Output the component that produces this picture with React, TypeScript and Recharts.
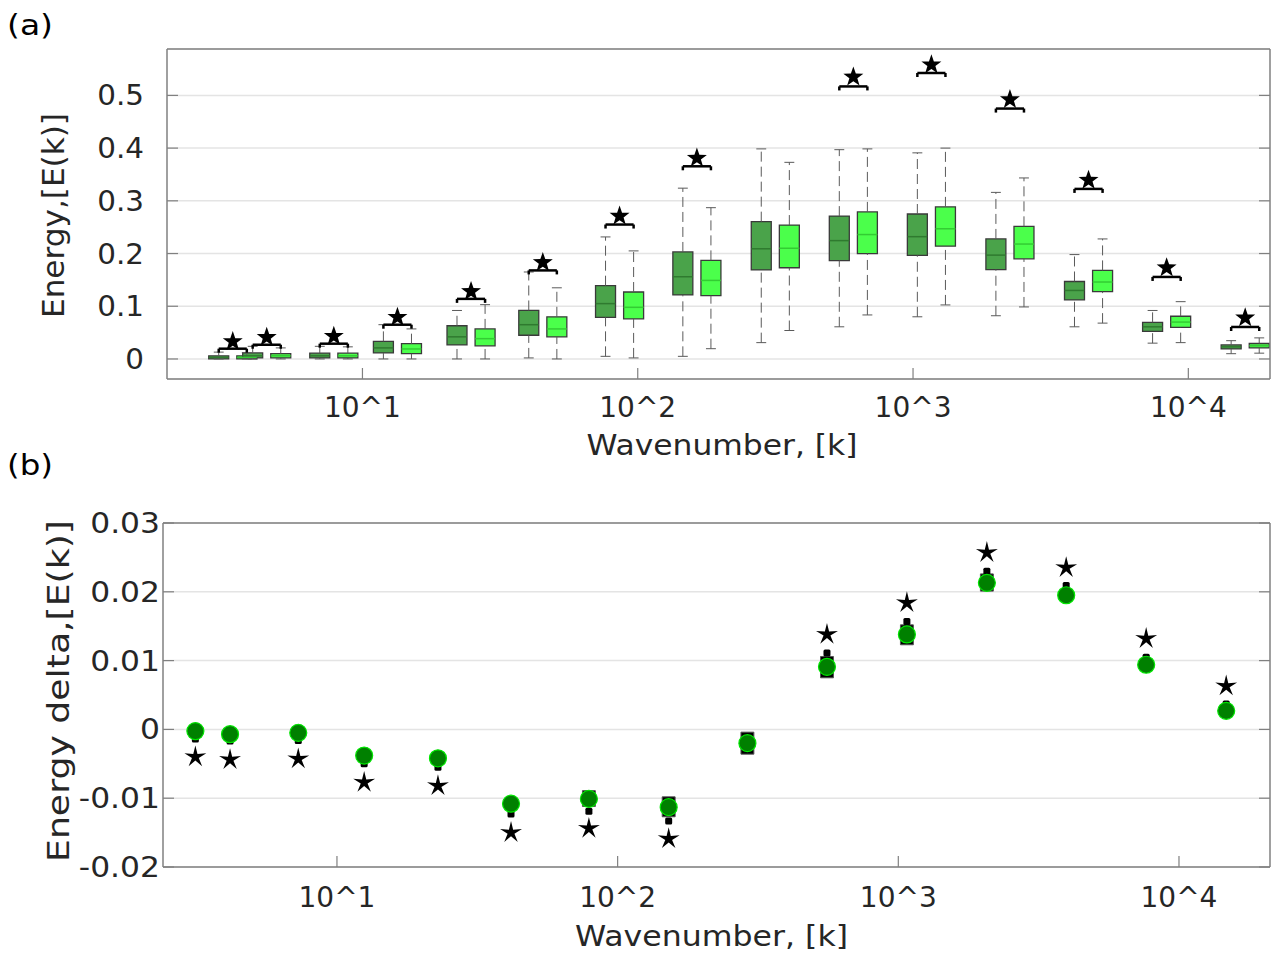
import React from 'react'
import {
  ComposedChart,
  Scatter,
  XAxis,
  YAxis,
  CartesianGrid,
  ReferenceArea,
  ReferenceLine,
} from 'recharts'

const FONT = '"DejaVu Sans", sans-serif'
const TXT = '#262626'
const AX = '#808080'

// ---- panel (a): energy per wavenumber bin, two conditions per bin ----
const kBox = [3.38, 4.49, 7.87, 13.4, 24.8, 45.2, 85.9, 164, 316, 607, 1166, 2249, 4340, 8340, 16090]

const darkLo = [0, 0, 0, 0, 0, 0.002, 0.005, 0.005, 0.031, 0.061, 0.08, 0.082, 0.061, 0.03, 0.01]
const darkQ1 = [0, 0.002, 0.002, 0.0114, 0.0266, 0.045, 0.079, 0.1215, 0.169, 0.1865, 0.1966, 0.1695, 0.112, 0.0524, 0.019]
const darkMed = [0.003, 0.006, 0.006, 0.021, 0.042, 0.065, 0.105, 0.156, 0.209, 0.2245, 0.232, 0.197, 0.13, 0.061, 0.023]
const darkQ3 = [0.006, 0.0114, 0.011, 0.0334, 0.063, 0.092, 0.139, 0.203, 0.2605, 0.271, 0.275, 0.2277, 0.147, 0.0695, 0.0266]
const darkHi = [0.013, 0.024, 0.024, 0.065, 0.092, 0.165, 0.2315, 0.324, 0.3985, 0.397, 0.391, 0.316, 0.198, 0.092, 0.0347]

const lightLo = [0, 0, 0, 0, 0, 0, 0.002, 0.0195, 0.054, 0.0835, 0.1025, 0.0987, 0.068, 0.031, 0.011]
const lightQ1 = [0, 0.002, 0.002, 0.01, 0.025, 0.042, 0.076, 0.12, 0.173, 0.2, 0.214, 0.19, 0.1277, 0.06, 0.021]
const lightMed = [0.003, 0.006, 0.006, 0.019, 0.0385, 0.057, 0.098, 0.149, 0.21, 0.236, 0.247, 0.218, 0.146, 0.07, 0.025]
const lightQ3 = [0.006, 0.01, 0.011, 0.029, 0.057, 0.08, 0.127, 0.187, 0.254, 0.279, 0.2885, 0.2516, 0.168, 0.081, 0.0293]
const lightHi = [0.012, 0.021, 0.023, 0.057, 0.103, 0.135, 0.205, 0.287, 0.373, 0.3985, 0.4, 0.3434, 0.2277, 0.1087, 0.04]

// significance bracket and star above each pair (bin 9 not significant)
const bracketY = [0.0195, 0.027, 0.029, 0.065, 0.114, 0.168, 0.255, 0.3655, null, 0.517, 0.5425, 0.475, 0.3226, 0.1556, 0.0607]
const starY = [0.033, 0.041, 0.043, 0.079, 0.128, 0.183, 0.271, 0.381, null, 0.535, 0.558, 0.492, 0.339, 0.173, 0.078]

// ---- panel (b): energy delta ----
const kDelta = [3.13, 4.16, 7.28, 12.5, 22.9, 41.7, 79.0, 152, 290, 557, 1073, 2068, 3964, 7640, 14730]
const deltaMean = [-0.00025, -0.0007, -0.0005, -0.0038, -0.0042, -0.0108, -0.0101, -0.0113, -0.002, 0.0091, 0.0138, 0.0213, 0.0195, 0.0094, 0.0027]
const deltaMedian = [-0.0014, -0.0017, -0.0016, -0.005, -0.0055, -0.0123, -0.0119, -0.0133, -0.002, 0.0111, 0.0157, 0.023, 0.0209, 0.0105, 0.0037]
const deltaLo = [-0.0006, -0.001, -0.0008, -0.0041, -0.0045, -0.0111, -0.0112, -0.0127, -0.0036, 0.0075, 0.0123, 0.0201, 0.0192, 0.0091, 0.0024]
const deltaHi = [0.0001, -0.0004, -0.0002, -0.0035, -0.0039, -0.0105, -0.0089, -0.0098, -0.0004, 0.0106, 0.0152, 0.0226, 0.0198, 0.0097, 0.003]
const deltaStar = [-0.004, -0.0044, -0.0043, -0.0077, -0.0082, -0.015, -0.0144, -0.0159, null, 0.0138, 0.0184, 0.0257, 0.0235, 0.0132, 0.0063]

const xTicks = [10, 100, 1000, 10000]
const yTicksA = [0, 0.1, 0.2, 0.3, 0.4, 0.5]
const yTicksB = [-0.02, -0.01, 0, 0.01, 0.02, 0.03]

// widths in decades of the log axis
const PAIR_OFF = 0.051
const HALF_W = 0.0363
const CAP_HALF = 0.018
const DELTA_HALF_W = 0.023

const DARK = '#4aa34a'
const DARK_MED = '#2f7a2f'
const LIGHT = '#4bff4b'
const LIGHT_MED = '#33cc33'
const WHISK = '#5a5a5a'

const pow = (d: number) => Math.pow(10, d)
const fmtPow = (v: number) => `10^${Math.round(Math.log10(v))}`
const pts = (ks: number[], ys: (number | null)[]) =>
  ks.map((k, i) => ({ k, v: ys[i] })).filter((p) => p.v != null)

function starPath(cx: number, cy: number, R: number, r: number) {
  let d = ''
  for (let i = 0; i < 10; i++) {
    const rad = i % 2 === 0 ? R : r
    const a = -Math.PI / 2 + (i * Math.PI) / 5
    d += (i ? 'L' : 'M') + (cx + rad * Math.cos(a)).toFixed(2) + ',' + (cy + rad * Math.sin(a)).toFixed(2)
  }
  return d + 'Z'
}

const tickStyle = { fontSize: 28, fill: TXT, fontFamily: FONT }

// y tick label, slightly widened like the reference
const yTick = (sx: number, size: number) => (p: any) => (
  <text
    x={p.x}
    y={p.y}
    dy="0.36em"
    textAnchor="end"
    fontSize={size}
    fontFamily={FONT}
    fill={TXT}
    transform={`translate(${p.x},0) scale(${sx},1) translate(${-p.x},0)`}
  >
    {p.payload.value}
  </text>
)

// axis titles with a fixed drawn length
const xTitle = (text: string, len: number, dx: number) => (p: any) => {
  const vb = p.viewBox
  const x = vb.x + vb.width / 2 + dx
  const y = vb.y + vb.height - p.offset
  return (
    <text x={x} y={y} textAnchor="middle" fontSize={28} fontFamily={FONT} fill={TXT} textLength={len} lengthAdjust="spacingAndGlyphs">
      {text}
    </text>
  )
}
const yTitle = (text: string, len: number, size: number, dy: number) => (p: any) => {
  const vb = p.viewBox
  const x = vb.x + p.offset
  const y = vb.y + vb.height / 2 + dy
  return (
    <text
      x={x}
      y={y}
      dy="0.36em"
      textAnchor="middle"
      fontSize={size}
      fontFamily={FONT}
      fill={TXT}
      textLength={len}
      lengthAdjust="spacingAndGlyphs"
      transform={`rotate(-90, ${x}, ${y})`}
    >
      {text}
    </text>
  )
}

function boxElements(
  i: number,
  side: number,
  lo: number[],
  q1: number[],
  med: number[],
  q3: number[],
  hi: number[],
  fill: string,
  medColor: string,
  tag: string,
) {
  const c = kBox[i] * pow(side * PAIR_OFF)
  const l = c / pow(HALF_W)
  const r = c * pow(HALF_W)
  const cl = c / pow(CAP_HALF)
  const cr = c * pow(CAP_HALF)
  const key = `${tag}${i}`
  return [
    <ReferenceLine key={key + 'wu'} segment={[{ x: c, y: q3[i] }, { x: c, y: hi[i] }]} stroke={WHISK} strokeDasharray="10 5" ifOverflow="visible" />,
    <ReferenceLine key={key + 'wl'} segment={[{ x: c, y: lo[i] }, { x: c, y: q1[i] }]} stroke={WHISK} strokeDasharray="10 5" ifOverflow="visible" />,
    <ReferenceLine key={key + 'cu'} segment={[{ x: cl, y: hi[i] }, { x: cr, y: hi[i] }]} stroke={WHISK} ifOverflow="visible" />,
    <ReferenceLine key={key + 'cl'} segment={[{ x: cl, y: lo[i] }, { x: cr, y: lo[i] }]} stroke={WHISK} ifOverflow="visible" />,
    <ReferenceArea key={key + 'b'} x1={l} x2={r} y1={q1[i]} y2={q3[i]} fill={fill} fillOpacity={1} stroke="#3a3a3a" strokeWidth={1.3} strokeOpacity={1} ifOverflow="visible" />,
    <ReferenceLine key={key + 'm'} segment={[{ x: l, y: med[i] }, { x: r, y: med[i] }]} stroke={medColor} strokeWidth={1.5} ifOverflow="visible" />,
  ]
}

function bracketElements(i: number) {
  const y = bracketY[i]
  if (y == null) return []
  const a = kBox[i] / pow(PAIR_OFF)
  const b = kBox[i] * pow(PAIR_OFF)
  const drop = 0.0076
  return [
    <ReferenceLine key={'br' + i} segment={[{ x: a, y }, { x: b, y }]} stroke="#000" strokeWidth={2.5} ifOverflow="visible" />,
    <ReferenceLine key={'bl' + i} segment={[{ x: a, y }, { x: a, y: y - drop }]} stroke="#000" strokeWidth={2.5} ifOverflow="visible" />,
    <ReferenceLine key={'bt' + i} segment={[{ x: b, y }, { x: b, y: y - drop }]} stroke="#000" strokeWidth={2.5} ifOverflow="visible" />,
  ]
}

function PanelA() {
  return (
    <ComposedChart width={1271} height={470} margin={{ top: 48, right: 0, bottom: 0, left: 0 }}>
      <CartesianGrid vertical={false} stroke="#e4e4e4" strokeWidth={1.5} />
      <XAxis
        dataKey="k"
        type="number"
        scale="log"
        domain={[1.95, 19800]}
        allowDataOverflow
        ticks={xTicks}
        interval={0}
        tickFormatter={fmtPow}
        height={91}
        tickSize={-11}
        tickMargin={29}
        tick={tickStyle}
        axisLine={{ stroke: AX, strokeWidth: 1.5 }}
        tickLine={{ stroke: AX, strokeWidth: 1.2 }}
        label={{ position: 'insideBottom', offset: 15, content: xTitle('Wavenumber, [k]', 271, 3.5) }}
      />
      <XAxis
        xAxisId="top"
        orientation="top"
        type="number"
        scale="log"
        domain={[1.95, 19800]}
        allowDataOverflow
        ticks={xTicks}
        interval={0}
        tickFormatter={() => ''}
        height={1}
        tickSize={-11}
        axisLine={{ stroke: AX, strokeWidth: 1.5 }}
        tickLine={{ stroke: AX, strokeWidth: 1.2 }}
      />
      <YAxis
        dataKey="v"
        type="number"
        domain={[-0.038, 0.588]}
        allowDataOverflow
        ticks={yTicksA}
        interval={0}
        width={167}
        tickSize={-11}
        tickMargin={34}
        tick={yTick(1.05, 28)}
        axisLine={{ stroke: AX, strokeWidth: 1.5 }}
        tickLine={{ stroke: AX, strokeWidth: 1.2 }}
        label={{ position: 'insideLeft', offset: 53, content: yTitle('Energy,[E(k)]', 205, 30, 1.5) }}
      />
      <YAxis
        yAxisId="right"
        orientation="right"
        type="number"
        domain={[-0.038, 0.588]}
        allowDataOverflow
        ticks={yTicksA}
        interval={0}
        width={1}
        tickSize={-11}
        tickFormatter={() => ''}
        axisLine={{ stroke: AX, strokeWidth: 1.5 }}
        tickLine={{ stroke: AX, strokeWidth: 1.2 }}
      />
      {kBox.flatMap((_, i) => [
        ...boxElements(i, -1, darkLo, darkQ1, darkMed, darkQ3, darkHi, DARK, DARK_MED, 'd'),
        ...boxElements(i, 1, lightLo, lightQ1, lightMed, lightQ3, lightHi, LIGHT, LIGHT_MED, 'l'),
      ])}
      {kBox.flatMap((_, i) => bracketElements(i))}
      <Scatter
        data={pts(kBox, starY)}
        isAnimationActive={false}
        shape={(p: any) => <path d={starPath(p.cx, p.cy, 10.5, 4.2)} fill="#000" />}
      />
    </ComposedChart>
  )
}

function PanelB() {
  return (
    <ComposedChart width={1271} height={486} margin={{ top: 52, right: 0, bottom: 0, left: 0 }}>
      <CartesianGrid vertical={false} stroke="#e4e4e4" strokeWidth={1.5} />
      <XAxis
        dataKey="k"
        type="number"
        scale="log"
        domain={[2.4, 21100]}
        allowDataOverflow
        ticks={xTicks}
        interval={0}
        tickFormatter={fmtPow}
        height={89}
        tickSize={-11}
        tickMargin={31}
        tick={tickStyle}
        axisLine={{ stroke: AX, strokeWidth: 1.5 }}
        tickLine={{ stroke: AX, strokeWidth: 1.2 }}
        label={{ position: 'insideBottom', offset: 10, content: xTitle('Wavenumber, [k]', 273, -5) }}
      />
      <XAxis
        xAxisId="top"
        orientation="top"
        type="number"
        scale="log"
        domain={[2.4, 21100]}
        allowDataOverflow
        ticks={xTicks}
        interval={0}
        tickFormatter={() => ''}
        height={1}
        tickSize={-11}
        axisLine={{ stroke: AX, strokeWidth: 1.5 }}
        tickLine={{ stroke: AX, strokeWidth: 1.2 }}
      />
      <YAxis
        dataKey="v"
        type="number"
        domain={[-0.02, 0.03]}
        allowDataOverflow
        ticks={yTicksB}
        interval={0}
        width={163}
        tickSize={-11}
        tickMargin={14}
        tick={yTick(1.12, 28)}
        axisLine={{ stroke: AX, strokeWidth: 1.5 }}
        tickLine={{ stroke: AX, strokeWidth: 1.2 }}
        label={{ position: 'insideLeft', offset: 58, content: yTitle('Energy delta,[E(k)]', 342, 31, -4) }}
      />
      <YAxis
        yAxisId="right"
        orientation="right"
        type="number"
        domain={[-0.02, 0.03]}
        allowDataOverflow
        ticks={yTicksB}
        interval={0}
        width={1}
        tickSize={-11}
        tickFormatter={() => ''}
        axisLine={{ stroke: AX, strokeWidth: 1.5 }}
        tickLine={{ stroke: AX, strokeWidth: 1.2 }}
      />
      {kDelta.map((k, i) => (
        <ReferenceArea
          key={'r' + i}
          x1={k / pow(DELTA_HALF_W)}
          x2={k * pow(DELTA_HALF_W)}
          y1={deltaLo[i]}
          y2={deltaHi[i]}
          fill="#000"
          fillOpacity={1}
          stroke="#555"
          strokeOpacity={1}
          ifOverflow="visible"
        />
      ))}
      <Scatter
        data={pts(kDelta, deltaMedian)}
        isAnimationActive={false}
        shape={(p: any) => <rect x={p.cx - 3.5} y={p.cy - 3.5} width={7} height={7} rx={1.5} fill="#000" />}
      />
      <Scatter
        data={pts(kDelta, deltaMean)}
        isAnimationActive={false}
        shape={(p: any) => <circle cx={p.cx} cy={p.cy} r={8.5} fill="#008000" stroke="#00e600" strokeWidth={1.2} />}
      />
      <Scatter
        data={pts(kDelta, deltaStar)}
        isAnimationActive={false}
        shape={(p: any) => <path d={starPath(p.cx, p.cy, 11.5, 3.6)} fill="#000" />}
      />
    </ComposedChart>
  )
}

export default function App() {
  return (
    <div style={{ position: 'absolute', left: 0, top: 0, width: 1271, height: 956, background: '#fff' }}>
      <div style={{ position: 'absolute', left: 0, top: 0 }}>
        <PanelA />
      </div>
      <div style={{ position: 'absolute', left: 0, top: 470 }}>
        <PanelB />
      </div>
      <svg width={1271} height={956} style={{ position: 'absolute', left: 0, top: 0, pointerEvents: 'none' }}>
        <text x={7} y={35} fontSize={29} fontFamily={FONT} fill="#000" textLength={46} lengthAdjust="spacingAndGlyphs">(a)</text>
        <text x={7} y={475} fontSize={29} fontFamily={FONT} fill="#000" textLength={46} lengthAdjust="spacingAndGlyphs">(b)</text>
      </svg>
    </div>
  )
}
